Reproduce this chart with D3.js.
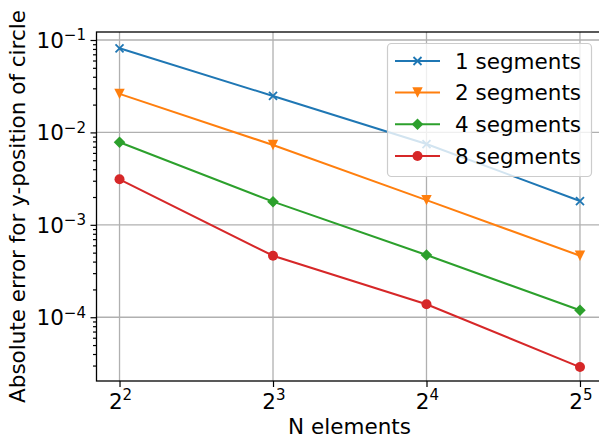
<!DOCTYPE html>
<html><head><meta charset="utf-8">
<script src="https://cdn.jsdelivr.net/npm/d3@7"></script>
<style>body{margin:0;background:#fff}svg{display:block}text{font-family:"DejaVu Sans",sans-serif;fill:#000}</style>
</head><body><svg id="c" width="599" height="438"></svg>
<script>
const nElements = [4, 8, 16, 32];
const seriesNames = ["1 segments", "2 segments", "4 segments", "8 segments"];
const seg1 = [0.0813, 0.0248, 0.00748, 0.00181];
const seg2 = [0.0261, 0.00731, 0.00185, 0.000463];
const seg4 = [0.00782, 0.00178, 0.000471, 0.000119];
const seg8 = [0.00311, 0.000463, 0.000138, 0.0000289];
const xTickExps = [2, 3, 4, 5];
const yTickExps = [-4, -3, -2, -1];
const colors = ["#1f77b4", "#ff7f0e", "#2ca02c", "#d62728"];
const markers = ["x", "v", "D", "o"];
const series = [seg1, seg2, seg4, seg8];

const L = 96.5, R = 603, T = 32, B = 381;
const FS = 21.5;
const svg = d3.select("#c");
const x = d3.scaleLog().base(2).domain([Math.pow(2, 1.85), Math.pow(2, 5.15)]).range([L, R]);
const y = d3.scaleLog().domain([Math.pow(10, -4.690), Math.pow(10, -0.9134)]).range([B, T]);

const g = svg.append("g");
g.selectAll(".gx").data(xTickExps).enter().append("line")
  .attr("x1", d => x(Math.pow(2, d))).attr("x2", d => x(Math.pow(2, d)))
  .attr("y1", T).attr("y2", B).attr("stroke", "#b0b0b0").attr("stroke-width", 1.3);
g.selectAll(".gy").data(yTickExps).enter().append("line")
  .attr("x1", L).attr("x2", R)
  .attr("y1", d => y(Math.pow(10, d))).attr("y2", d => y(Math.pow(10, d)))
  .attr("stroke", "#b0b0b0").attr("stroke-width", 1.3);

const xAxis = d3.axisBottom(x).tickValues(xTickExps.map(e => Math.pow(2, e))).tickSize(6).tickFormat("");
const gx = svg.append("g").attr("transform", `translate(0,${B})`).call(xAxis);
const minorY = [];
for (let k = -5; k <= 0; k++) for (let m = 2; m <= 9; m++) {
  const v = m * Math.pow(10, k);
  if (v > y.domain()[0] && v < y.domain()[1]) minorY.push(v);
}
const yAxis = d3.axisLeft(y).tickValues(yTickExps.map(e => Math.pow(10, e))).tickSize(6).tickFormat("");
const gy = svg.append("g").attr("transform", `translate(${L},0)`).call(yAxis);
const yMinor = d3.axisLeft(y).tickValues(minorY).tickSize(3.5).tickFormat("");
const gym = svg.append("g").attr("transform", `translate(${L},0)`).call(yMinor);
[gx, gy, gym].forEach(a => {
  a.select(".domain").remove();
  a.selectAll(".tick line").attr("stroke", "#000").attr("stroke-width", 1.2);
});

xTickExps.forEach(e => {
  const t = svg.append("text").attr("x", x(Math.pow(2, e)) + 1).attr("y", 408.5)
    .attr("text-anchor", "middle").attr("font-size", FS);
  t.append("tspan").text("2");
  t.append("tspan").attr("font-size", FS * 0.7).attr("dy", -9).text(String(e));
});
yTickExps.forEach(e => {
  const t = svg.append("text").attr("x", 86).attr("y", y(Math.pow(10, e)) + 7.8)
    .attr("text-anchor", "end").attr("font-size", FS);
  t.append("tspan").text("10");
  t.append("tspan").attr("font-size", FS * 0.7).attr("dy", -7.5).text("\u2212" + Math.abs(e));
});

svg.append("rect").attr("x", L).attr("y", T).attr("width", R - L).attr("height", B - T)
  .attr("fill", "none").attr("stroke", "#000").attr("stroke-width", 1.3);

const line = d3.line().x((d, i) => x(nElements[i])).y(d => y(d));
function drawMarker(sel, type, color, cx, cy) {
  if (type === "x") {
    const s = 4;
    sel.append("path").attr("d", `M${cx - s},${cy - s}L${cx + s},${cy + s}M${cx - s},${cy + s}L${cx + s},${cy - s}`)
      .attr("stroke", color).attr("stroke-width", 1.8).attr("fill", "none");
  } else if (type === "v") {
    const s = 5.2;
    sel.append("path").attr("d", `M${cx - s},${cy - s}L${cx + s},${cy - s}L${cx},${cy + s}Z`).attr("fill", color);
  } else if (type === "D") {
    const s = 5.8;
    sel.append("path").attr("d", `M${cx},${cy - s}L${cx + s},${cy}L${cx},${cy + s}L${cx - s},${cy}Z`).attr("fill", color);
  } else {
    sel.append("circle").attr("cx", cx).attr("cy", cy).attr("r", 5).attr("fill", color);
  }
}
const dg = svg.append("g");
series.forEach((s, i) => {
  dg.append("path").datum(s).attr("d", line).attr("fill", "none").attr("stroke", colors[i]).attr("stroke-width", 2);
  s.forEach((v, j) => drawMarker(dg, markers[i], colors[i], x(nElements[j]), y(v)));
});

const lg = svg.append("g");
lg.append("rect").attr("x", 387.5).attr("y", 43.5).attr("width", 204).attr("height", 133).attr("rx", 4)
  .attr("fill", "rgba(255,255,255,0.8)").attr("stroke", "#cccccc").attr("stroke-width", 1.2);
const rowY = [61, 92.5, 124.3, 156];
seriesNames.forEach((n, i) => {
  lg.append("line").attr("x1", 395).attr("x2", 440).attr("y1", rowY[i]).attr("y2", rowY[i])
    .attr("stroke", colors[i]).attr("stroke-width", 2);
  drawMarker(lg, markers[i], colors[i], 417.5, rowY[i]);
  lg.append("text").attr("x", 455).attr("y", rowY[i] + 7.8).attr("font-size", FS).text(n);
});

svg.append("text").attr("x", 349.5).attr("y", 434.3).attr("text-anchor", "middle")
  .attr("font-size", FS).text("N elements");
svg.append("text").attr("transform", `translate(25,${(T + B) / 2}) rotate(-90)`).attr("text-anchor", "middle")
  .attr("font-size", FS).text("Absolute error for y-position of circle");
</script></body></html>
